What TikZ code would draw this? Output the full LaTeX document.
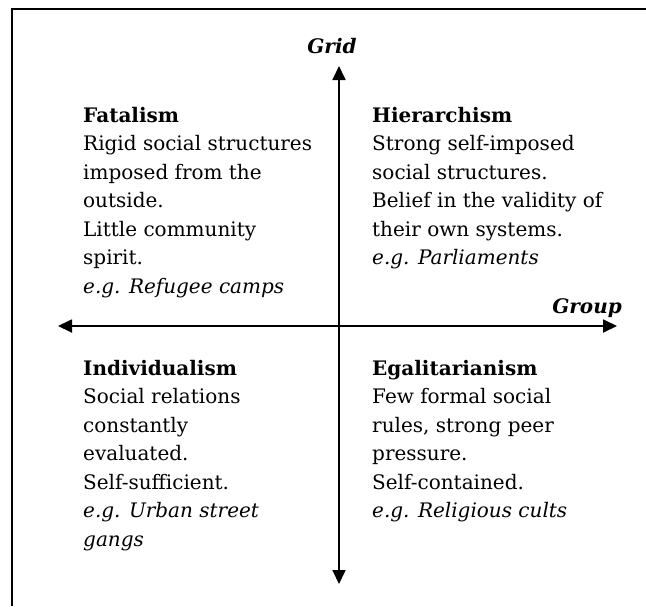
\documentclass[tikz,border=0pt]{standalone}
\usepackage{fontspec}
\setmainfont{DejaVu Serif}
\usetikzlibrary{arrows.meta}
\newcommand\qbody{\fontsize{20}{28.5}\selectfont}
\newcommand\qaxis{\fontsize{20}{25}\selectfont\bfseries\itshape}
\begin{document}
\begin{tikzpicture}[x=1pt,y=-1pt,
  frameline/.style={line width=2pt},
  axisline/.style={line width=1.8pt,{Triangle[length=14pt,width=13pt]}-{Triangle[length=14pt,width=13pt]}},
  quad/.style={anchor=base west,align=left,inner sep=0pt,font=\qbody},
  axlabel/.style={inner sep=0pt,font=\qaxis}]
\useasboundingbox (0,0) rectangle (646,606);
\draw[frameline] (12,606) -- (12,9) -- (646,9);
\coordinate (top) at (339,66);
\coordinate (bot) at (339,584);
\coordinate (lft) at (58,326);
\coordinate (rgt) at (617,326);
\draw[axisline] (bot) -- (top);
\draw[axisline] (lft) -- (rgt);
\node[axlabel,anchor=base] (grid) at (332,53) {Grid};
\node[axlabel,anchor=base east] (group) at (622,313) {Group};
% base anchor = baseline of the last line
\node[quad] (fat) at (83,293) {\textbf{Fatalism}\\Rigid social structures\\imposed from the\\outside.\\Little community\\spirit.\\\textit{e.g. Refugee camps}};
\node[quad] (hier) at (372,264.5) {\textbf{Hierarchism}\\Strong self-imposed\\social structures.\\Belief in the validity of\\their own systems.\\\textit{e.g. Parliaments}};
\node[quad] (ind) at (83,546) {\textbf{Individualism}\\Social relations\\constantly\\evaluated.\\Self-sufficient.\\\textit{e.g. Urban street}\\\textit{gangs}};
\node[quad] (ega) at (372,517.5) {\textbf{Egalitarianism}\\Few formal social\\rules, strong peer\\pressure.\\Self-contained.\\\textit{e.g. Religious cults}};
\end{tikzpicture}
\end{document}
